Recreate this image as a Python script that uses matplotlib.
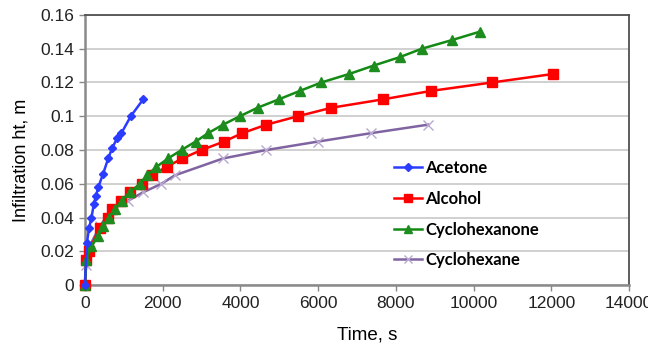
import matplotlib
matplotlib.use("Agg")
import matplotlib.pyplot as plt

# Data
acetone_t = [0, 50, 110, 170, 230, 285, 345, 470, 600, 700, 830, 940, 1180, 1500]
acetone_h = [0, 0.025, 0.034, 0.040, 0.048, 0.053, 0.058, 0.066, 0.075, 0.081, 0.087, 0.090, 0.100, 0.110]

alcohol_t = [0, 40, 100, 385, 600, 700, 940, 1160, 1460, 1715, 2100, 2510, 3000, 3580,
             4050, 4670, 5480, 6340, 7670, 8910, 10480, 12040]
alcohol_h = [0, 0.015, 0.020, 0.034, 0.040, 0.045, 0.050, 0.055, 0.060, 0.065, 0.070, 0.075,
             0.080, 0.085, 0.090, 0.095, 0.100, 0.105, 0.110, 0.115, 0.120, 0.125]

cyclohexanone_t = [0, 40, 170, 340, 470, 625, 770, 945, 1160, 1415, 1600, 1840, 2140, 2485,
                   2850, 3170, 3555, 3985, 4440, 4990, 5530, 6085, 6795, 7430, 8100, 8670,
                   9430, 10150]
cyclohexanone_h = [0, 0.015, 0.023, 0.029, 0.035, 0.040, 0.045, 0.050, 0.055, 0.060, 0.065,
                   0.070, 0.075, 0.080, 0.085, 0.090, 0.095, 0.100, 0.105, 0.110, 0.115,
                   0.120, 0.125, 0.130, 0.135, 0.140, 0.145, 0.150]

cyclohexane_t = [0, 20, 100, 385, 700, 1115, 1500, 1970, 2315, 3555, 4670, 6000, 7370, 8830]
cyclohexane_h = [0, 0.012, 0.022, 0.035, 0.045, 0.050, 0.055, 0.060, 0.065, 0.075, 0.080,
                 0.085, 0.090, 0.095]

x_ticks = [0, 2000, 4000, 6000, 8000, 10000, 12000, 14000]
y_ticks = [0, 0.02, 0.04, 0.06, 0.08, 0.1, 0.12, 0.14, 0.16]
y_labels = ["0", "0.02", "0.04", "0.06", "0.08", "0.1", "0.12", "0.14", "0.16"]

plt.rcParams['font.family'] = ['Liberation Sans', 'DejaVu Sans']

fig = plt.figure(figsize=(6.48, 3.46), dpi=100)
ax = fig.add_axes([0.131, 0.176, 0.840, 0.781])

ax.plot(acetone_t, acetone_h, color='#2a3cff', lw=1.8, marker='D', ms=4.5,
        label='Acetone', clip_on=False, zorder=5)
ax.plot(alcohol_t, alcohol_h, color='#ff0000', lw=1.8, marker='s', ms=7,
        label='Alcohol', clip_on=False, zorder=3)
ax.plot(cyclohexanone_t, cyclohexanone_h, color='#138a13', lw=1.8, marker='^', ms=6.5,
        markerfacecolor='#1e8c1e', markeredgecolor='#1e8c1e',
        label='Cyclohexanone', clip_on=False, zorder=4)
ax.plot(cyclohexane_t, cyclohexane_h, color='#8064a2', lw=1.8, marker='x', ms=7,
        markeredgecolor='#b8a8d0', markeredgewidth=1.0,
        label='Cyclohexane', clip_on=False, zorder=2)

ax.set_xlim(0, 14000)
ax.set_ylim(0, 0.16)
ax.set_xticks(x_ticks)
ax.set_xticklabels([str(v) for v in x_ticks])
ax.set_yticks(y_ticks)
ax.set_yticklabels(y_labels)
ax.tick_params(axis='both', labelsize=12.5, length=4, width=1, color='#888888', labelcolor='#222222')

ax.grid(axis='y', color='#c8c8c8', lw=1.2)
ax.set_axisbelow(True)

for s in ['left', 'bottom']:
    ax.spines[s].set_color('#8a8a8a')
    ax.spines[s].set_linewidth(1.8)
for s in ['top', 'right']:
    ax.spines[s].set_color('#505050')
    ax.spines[s].set_linewidth(1.3)

ax.set_xlabel('Time, s', fontsize=13.5, labelpad=9)
ax.xaxis.set_label_coords(0.518, -0.155)
ax.set_ylabel('Infiltration ht, m', fontsize=13)
ax.yaxis.set_label_coords(-0.102, 0.46)

leg = ax.legend(loc='upper left', bbox_to_anchor=(0.555, 0.487), frameon=False,
                prop={'family': 'Lato', 'weight': 'bold', 'size': 12},
                handlelength=1.7, handletextpad=0.2, labelspacing=0.88,
                borderaxespad=0, markerscale=0.8)

fig.savefig('out.png', dpi=100)
